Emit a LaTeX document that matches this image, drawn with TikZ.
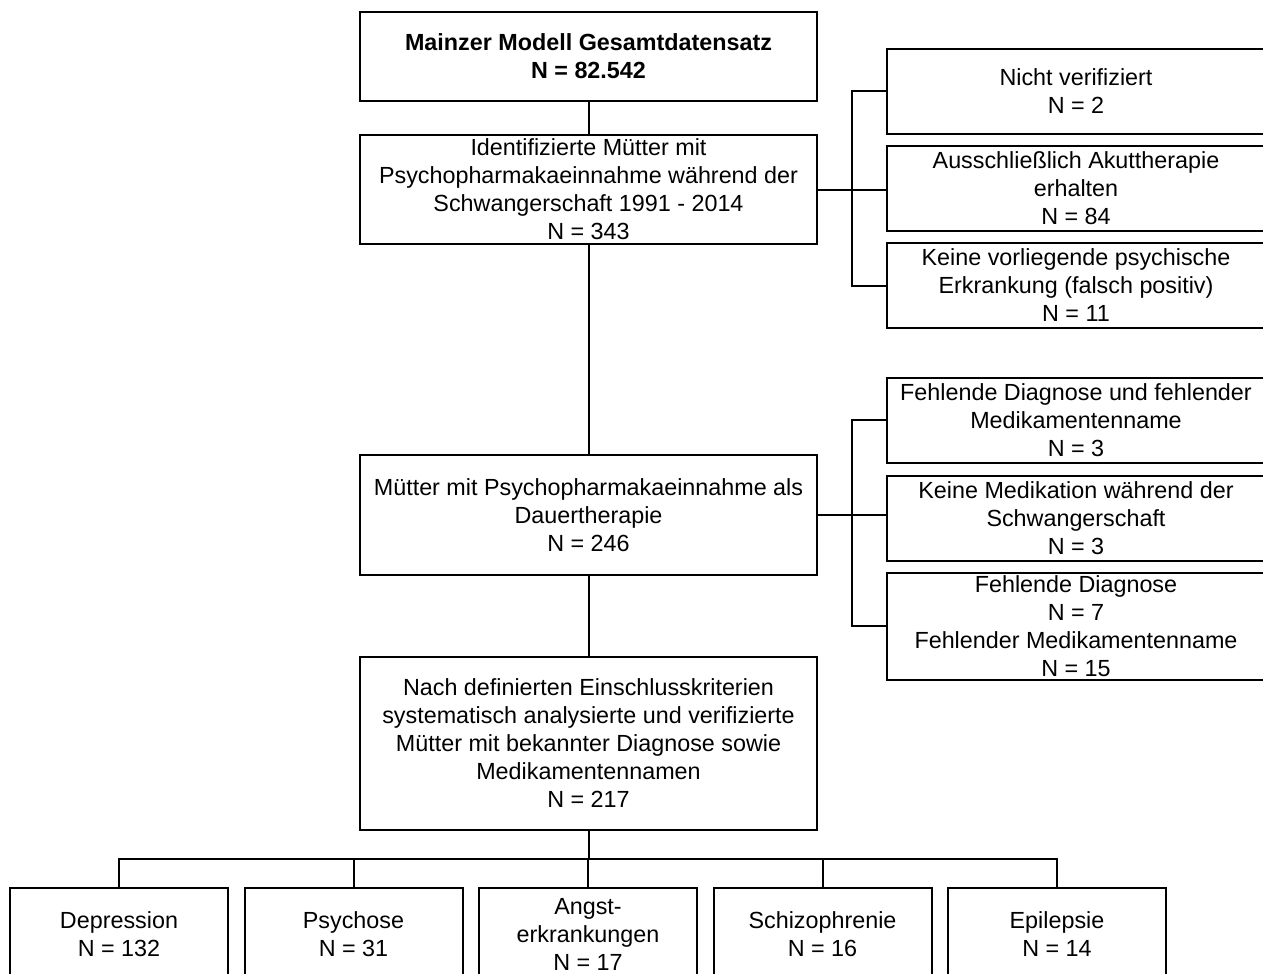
\documentclass[tikz,border=0pt]{standalone}
\usepackage{fontspec}
\setmainfont{Liberation Sans}
\usetikzlibrary{positioning,calc}
\newcommand\pxu{0.75pt}
\newcommand\boxfont{\fontsize{17.5pt}{21pt}\selectfont}

\begin{document}
\begin{tikzpicture}[x=\pxu, y=-\pxu, line width=1.5pt,
  font=\boxfont,
  mainbox/.style={rectangle, draw=black, inner sep=0pt, align=center, minimum width=342.75pt},
  sidebox/.style={rectangle, draw=black, inner sep=0pt, align=center, minimum width=283.5pt, minimum height=63.75pt},
  diagbox/.style={rectangle, draw=black, inner sep=0pt, align=center, minimum width=163.5pt, minimum height=69pt}]
\useasboundingbox (0,0) rectangle (1263,974);
\clip (0,0) rectangle (1263,974);
\fill[white] (0,0) rectangle (1263,974);

% main column
\node[mainbox, minimum height=66.75pt, font=\boxfont\bfseries] (total) at (588.5,56.5) {Mainzer Modell Gesamtdatensatz\\N = 82.542};
\node[mainbox, minimum height=81.75pt, below=24pt of total] (ident) {Identifizierte Mütter mit\\Psychopharmakaeinnahme während der\\Schwangerschaft 1991 - 2014\\N = 343};
\node[mainbox, minimum height=90pt, below=156.75pt of ident] (dauer) {Mütter mit Psychopharmakaeinnahme als\\Dauertherapie\\N = 246};
\node[mainbox, minimum height=129.75pt, below=60pt of dauer] (final) {Nach definierten Einschlusskriterien\\systematisch analysierte und verifizierte\\Mütter mit bekannter Diagnose sowie\\Medikamentennamen\\N = 217};
\draw (total) -- (ident);
\draw (ident) -- (dauer);
\draw (dauer) -- (final);

% exclusions, first step
\node[sidebox] (nver) at (1076,91.5) {Nicht verifiziert\\N = 2};
\node[sidebox, below=7.5pt of nver] (akut) {Ausschließlich Akuttherapie\\erhalten\\N = 84};
\node[sidebox, below=7.5pt of akut] (fpos) {Keine vorliegende psychische\\Erkrankung (falsch positiv)\\N = 11};
\coordinate (sp1) at ($(ident.east)!0.5!(ident.east -| akut.west)$);
\draw (ident.east) -- (ident.east -| akut.west);
\draw (nver.west) -| (sp1) |- (fpos.west);

% exclusions, second step
\node[sidebox] (fdm) at (1076,420) {Fehlende Diagnose und fehlender\\Medikamentenname\\N = 3};
\node[sidebox, below=8.25pt of fdm] (kmed) {Keine Medikation während der\\Schwangerschaft\\N = 3};
\node[sidebox, minimum height=80.25pt, below=7.5pt of kmed] (fdia) {Fehlende Diagnose\\N = 7\\Fehlender Medikamentenname\\N = 15};
\coordinate (sp2) at ($(dauer.east)!0.5!(dauer.east -| kmed.west)$);
\draw (dauer.east) -- (dauer.east -| kmed.west);
\draw (fdm.west) -| (sp2) |- (fdia.west);

% diagnoses
\node[diagbox] (depr) at (119,934) {Depression\\N = 132};
\node[diagbox, right=10.875pt of depr] (psych) {Psychose\\N = 31};
\node[diagbox, right=10.875pt of psych] (angst) {Angst-\\erkrankungen\\N = 17};
\node[diagbox, right=10.875pt of angst] (schiz) {Schizophrenie\\N = 16};
\node[diagbox, right=10.875pt of schiz] (epil) {Epilepsie\\N = 14};
\coordinate (bus) at (final.south |- 0,859);
\draw (final.south) -- (bus);
\draw (depr.north) |- (bus) -| (epil.north);
\draw (psych.north) |- (bus);
\draw (angst.north) |- (bus);
\draw (schiz.north) |- (bus);
\end{tikzpicture}
\end{document}
